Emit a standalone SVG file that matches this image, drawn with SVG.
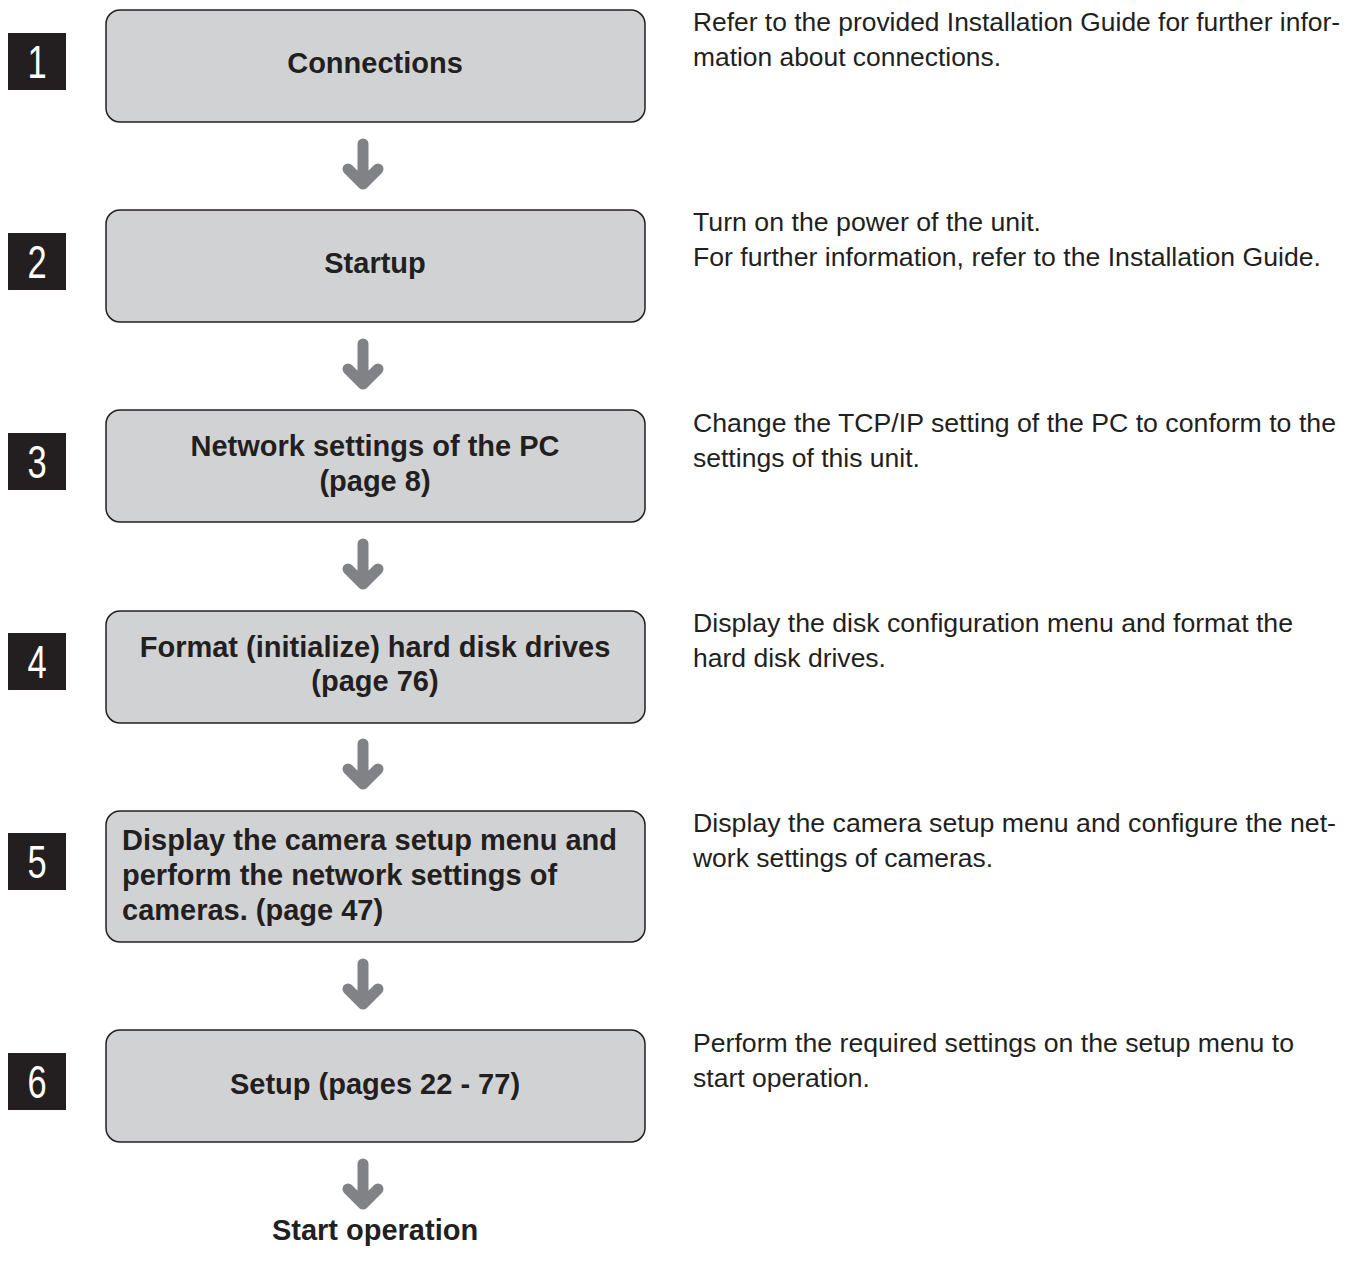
<svg xmlns="http://www.w3.org/2000/svg" width="1364" height="1274" viewBox="0 0 1364 1274">
<style>
.box{fill:#d1d2d4;stroke:#231f20;stroke-width:1.5}
.num{fill:#231f20}
.digit{fill:#ffffff;font-family:"Liberation Sans",Arial,sans-serif;font-size:46px;text-anchor:middle}
.lbl{fill:#231f20;font-family:"Liberation Sans",Arial,sans-serif;font-weight:bold;font-size:29px;text-anchor:middle}
.lbll{fill:#231f20;font-family:"Liberation Sans",Arial,sans-serif;font-weight:bold;font-size:29px}
.desc{fill:#231f20;font-family:"Liberation Sans",Arial,sans-serif;font-size:25px}
.arr{fill:none;stroke:#808285;stroke-width:11;stroke-linecap:round;stroke-linejoin:round}
</style>
<defs>
<g id="arrow"><path class="arr" d="M0,4 V44 M-15,29 L0,44 L15,29"/></g>
</defs>
<rect width="1364" height="1274" fill="#ffffff"/>
<g id="connectors">
<use href="#arrow" x="363" y="140"/>
<use href="#arrow" x="363" y="340"/>
<use href="#arrow" x="363" y="540"/>
<use href="#arrow" x="363" y="740"/>
<use href="#arrow" x="363" y="960"/>
<use href="#arrow" x="363" y="1160"/>
</g>
<g id="step1">
<rect class="num" x="8" y="33" width="58" height="57"/>
<text class="digit" transform="translate(37,78) scale(0.75,1)">1</text>
<rect class="box" x="106" y="10" width="539" height="112" rx="14"/>
<text class="lbl" x="375" y="73">Connections</text>
<text class="desc" x="693" y="31" textLength="647" lengthAdjust="spacingAndGlyphs">Refer to the provided Installation Guide for further infor-</text>
<text class="desc" x="693" y="66" textLength="308" lengthAdjust="spacingAndGlyphs">mation about connections.</text>
</g>
<g id="step2">
<rect class="num" x="8" y="233" width="58" height="57"/>
<text class="digit" transform="translate(37,278) scale(0.75,1)">2</text>
<rect class="box" x="106" y="210" width="539" height="112" rx="14"/>
<text class="lbl" x="375" y="273">Startup</text>
<text class="desc" x="693" y="231" textLength="348" lengthAdjust="spacingAndGlyphs">Turn on the power of the unit.</text>
<text class="desc" x="693" y="266" textLength="628" lengthAdjust="spacingAndGlyphs">For further information, refer to the Installation Guide.</text>
</g>
<g id="step3">
<rect class="num" x="8" y="433" width="58" height="57"/>
<text class="digit" transform="translate(37,478) scale(0.75,1)">3</text>
<rect class="box" x="106" y="410" width="539" height="112" rx="14"/>
<text class="lbl" x="375" y="456">Network settings of the PC</text>
<text class="lbl" x="375" y="491">(page 8)</text>
<text class="desc" x="693" y="432" textLength="643" lengthAdjust="spacingAndGlyphs">Change the TCP/IP setting of the PC to conform to the</text>
<text class="desc" x="693" y="467" textLength="227" lengthAdjust="spacingAndGlyphs">settings of this unit.</text>
</g>
<g id="step4">
<rect class="num" x="8" y="633" width="58" height="57"/>
<text class="digit" transform="translate(37,678) scale(0.75,1)">4</text>
<rect class="box" x="106" y="611" width="539" height="112" rx="14"/>
<text class="lbl" x="375" y="657">Format (initialize) hard disk drives</text>
<text class="lbl" x="375" y="691">(page 76)</text>
<text class="desc" x="693" y="632" textLength="600" lengthAdjust="spacingAndGlyphs">Display the disk configuration menu and format the</text>
<text class="desc" x="693" y="667" textLength="193" lengthAdjust="spacingAndGlyphs">hard disk drives.</text>
</g>
<g id="step5">
<rect class="num" x="8" y="833" width="58" height="57"/>
<text class="digit" transform="translate(37,878) scale(0.75,1)">5</text>
<rect class="box" x="106" y="811" width="539" height="131" rx="14"/>
<text class="lbll" x="122" y="850" textLength="495" lengthAdjust="spacingAndGlyphs">Display the camera setup menu and</text>
<text class="lbll" x="122" y="885">perform the network settings of</text>
<text class="lbll" x="122" y="920">cameras. (page 47)</text>
<text class="desc" x="693" y="832" textLength="643" lengthAdjust="spacingAndGlyphs">Display the camera setup menu and configure the net-</text>
<text class="desc" x="693" y="867" textLength="300" lengthAdjust="spacingAndGlyphs">work settings of cameras.</text>
</g>
<g id="step6">
<rect class="num" x="8" y="1053" width="58" height="57"/>
<text class="digit" transform="translate(37,1098) scale(0.75,1)">6</text>
<rect class="box" x="106" y="1030" width="539" height="112" rx="14"/>
<text class="lbl" x="375" y="1094">Setup (pages 22 - 77)</text>
<text class="desc" x="693" y="1052" textLength="601" lengthAdjust="spacingAndGlyphs">Perform the required settings on the setup menu to</text>
<text class="desc" x="693" y="1087" textLength="177" lengthAdjust="spacingAndGlyphs">start operation.</text>
</g>
<g id="end">
<text class="lbl" x="375" y="1240">Start operation</text>
</g>
</svg>
